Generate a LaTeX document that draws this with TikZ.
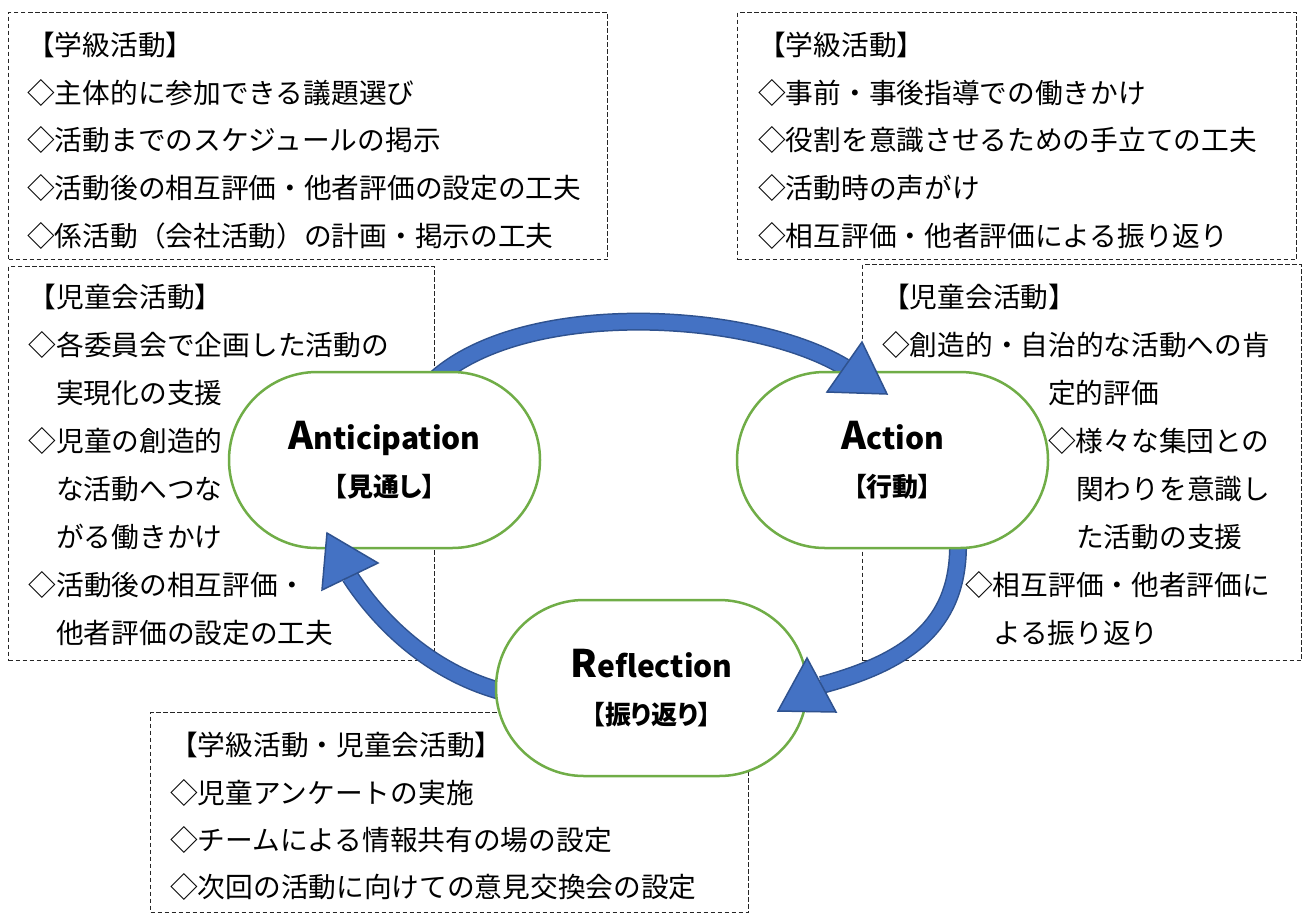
\documentclass[tikz,border=0pt]{standalone}
\usepackage{fontspec}
\newfontfamily\jp{Noto Sans CJK JP}
\newfontfamily\jplabel[RawFeature={+palt}]{Noto Sans CJK JP}
\definecolor{arrowblue}{HTML}{4472C4}
\definecolor{arrowedge}{HTML}{2F528F}
\definecolor{stadgreen}{HTML}{70AD47}
\begin{document}
\begin{tikzpicture}[x=1pt,y=-1pt,
  dbox/.style={draw=black!85, line width=1pt, dash pattern=on 4.5pt off 2.5pt, anchor=north west, inner sep=0pt},
  txt/.style={anchor=base west, inner sep=0pt, font=\jp\fontsize{27.7}{27.7}\selectfont},
  stadium/.style={draw=stadgreen, line width=2.5pt, fill=white, rounded corners=88pt,
    minimum width=311pt, minimum height=176pt, align=center, inner sep=0pt,
    font=\jplabel\bfseries\fontsize{26}{47}\selectfont},
  big/.style={},
  shaftout/.style={draw=arrowedge, line width=18pt},
  shaftin/.style={draw=arrowblue, line width=15pt},
  head/.style={fill=arrowblue, draw=arrowedge, line width=1.5pt, line join=miter}]
\fill[white] (0,0) rectangle (1303,914);
\useasboundingbox (0,0) rectangle (1303,914);

% dashed boxes
\node[dbox, minimum width=599pt, minimum height=247pt] (b1) at (8,12) {};
\node[dbox, minimum width=559pt, minimum height=247pt] (b2) at (737,12) {};
\node[dbox, minimum width=426pt, minimum height=394pt] (b3) at (8,266) {};
\node[dbox, minimum width=439pt, minimum height=396pt] (b4) at (862,264) {};
\node[dbox, minimum width=598pt, minimum height=200pt] (b5) at (150,712) {};

% box 1
\node[txt] (t11) at (27,55.5) {【学級活動】};
\node[txt] (t12) at (27,103.5) {◇主体的に参加できる議題選び};
\node[txt] (t13) at (27,150.5) {◇活動までのスケジュールの掲示};
\node[txt] (t14) at (27,198) {◇活動後の相互評価・他者評価の設定の工夫};
\node[txt] (t15) at (27,246) {◇係活動（会社活動）の計画・掲示の工夫};
% box 2
\node[txt] (t21) at (758,55.5) {【学級活動】};
\node[txt] (t22) at (758,103.5) {◇事前・事後指導での働きかけ};
\node[txt] (t23) at (758,150.5) {◇役割を意識させるための手立ての工夫};
\node[txt] (t24) at (758,198) {◇活動時の声がけ};
\node[txt] (t25) at (758,246) {◇相互評価・他者評価による振り返り};
% box 3
\node[txt] (t31) at (28.5,307) {【児童会活動】};
\node[txt] (t32) at (28.5,355) {◇各委員会で企画した活動の};
\node[txt] (t33) at (56,403) {実現化の支援};
\node[txt] (t34) at (28.5,451) {◇児童の創造的};
\node[txt] (t35) at (56,499) {な活動へつな};
\node[txt] (t36) at (56,547) {がる働きかけ};
\node[txt] (t37) at (28.5,595) {◇活動後の相互評価・};
\node[txt] (t38) at (56,643) {他者評価の設定の工夫};
% box 4
\node[txt] (t41) at (882,307) {【児童会活動】};
\node[txt] (t42) at (882,355) {◇創造的・自治的な活動への肯};
\node[txt] (t43) at (1048,403) {定的評価};
\node[txt] (t44) at (1048,451) {◇様々な集団との};
\node[txt] (t45) at (1076,499) {関わりを意識し};
\node[txt] (t46) at (1076,547) {た活動の支援};
\node[txt] (t47) at (965,595) {◇相互評価・他者評価に};
\node[txt] (t48) at (993,643) {よる振り返り};
% box 5
\node[txt] (t51) at (170,755.5) {【学級活動・児童会活動】};
\node[txt] (t52) at (170,803.5) {◇児童アンケートの実施};
\node[txt] (t53) at (170,850.5) {◇チームによる情報共有の場の設定};
\node[txt] (t54) at (170,897.5) {◇次回の活動に向けての意見交換会の設定};

% arrow geometry
\coordinate (s1) at (432,382);
\coordinate (e1) at (844.5,367);
\coordinate (s2) at (958,540);
\coordinate (e2) at (821.5,685);
\coordinate (s3) at (512,694);
\coordinate (e3) at (350,576.5);

% shafts (under the stadiums)
\foreach \st in {shaftout,shaftin}{
  \draw[\st] (s1) .. controls (520,298) and (750,310) .. (e1);
  \draw[\st] (s2) .. controls (960,620) and (915,660) .. (e2);
  \draw[\st] (s3) .. controls (440,678) and (385,630) .. (e3);
}

% stadiums
\node[stadium] (ant) at (384.5,460) {{\fontsize{38}{38}\selectfont A}{\fontsize{30}{30}\selectfont nticipation}\\【見通し】};
\node[stadium] (act) at (892.5,460) {{\fontsize{38}{38}\selectfont A}{\fontsize{30}{30}\selectfont ction}\\【行動】};
\node[stadium] (ref) at (651.5,688) {{\fontsize{38}{38}\selectfont R}{\fontsize{30}{30}\selectfont eflection}\\【振り返り】};

% heads (on top)
\draw[head] (862,342) -- (887,394) -- (827,392) -- cycle;
\draw[head] (807,658) -- (836,712) -- (778,711) -- cycle;
\draw[head] (378,563) -- (327,533) -- (322,590) -- cycle;
\end{tikzpicture}
\end{document}
